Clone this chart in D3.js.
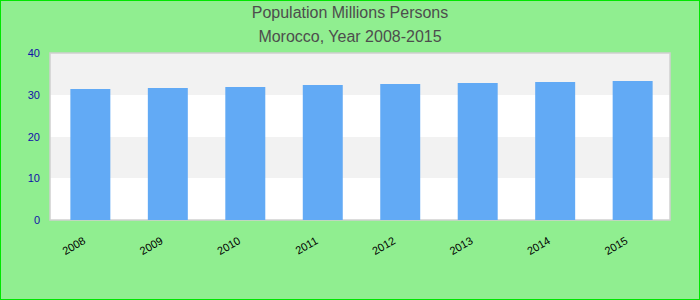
<!DOCTYPE html>
<html>
<head>
<meta charset="utf-8">
<script src="https://cdn.jsdelivr.net/npm/d3@7"></script>
<style>
  html, body { margin: 0; padding: 0; }
  body { width: 700px; height: 300px; overflow: hidden; font-family: "Liberation Sans", Arial, sans-serif; }
</style>
</head>
<body>
<svg id="chart"></svg>
<script>
// data
const years = ["2008", "2009", "2010", "2011", "2012", "2013", "2014", "2015"];
const population = [31.4, 31.6, 31.9, 32.3, 32.6, 32.8, 33.1, 33.3];
const yTicks = [0, 10, 20, 30, 40];
const titleLines = ["Population Millions Persons", "Morocco, Year 2008-2015"];

const svgWidth = 700, svgHeight = 300;
const margin = { top: 53, right: 30, bottom: 80, left: 50 };
const width = svgWidth - margin.left - margin.right;
const height = svgHeight - margin.top - margin.bottom;

const svg = d3.select("#chart")
  .attr("width", svgWidth)
  .attr("height", svgHeight);

// background + border
svg.append("rect")
  .attr("x", 0.5).attr("y", 0.5)
  .attr("width", svgWidth - 1).attr("height", svgHeight - 1)
  .attr("fill", "#90ee90")
  .attr("stroke", "#00e600")
  .attr("stroke-width", 1);

// titles
svg.selectAll(".title")
  .data(titleLines)
  .enter().append("text")
  .attr("class", "title")
  .attr("x", svgWidth / 2)
  .attr("y", (d, i) => 18 + i * 24)
  .attr("text-anchor", "middle")
  .attr("fill", "#4d4d4d")
  .style("font-size", "16px")
  .text(d => d);

const g = svg.append("g")
  .attr("transform", "translate(" + margin.left + "," + margin.top + ")");

const x = d3.scaleBand()
  .domain(years)
  .range([1, width + 2])
  .paddingInner(0.484)
  .paddingOuter(0.25);

const y = d3.scaleLinear()
  .domain([0, 40])
  .rangeRound([height, 0]);

// alternating bands
const bands = d3.pairs(yTicks);
g.selectAll(".band")
  .data(bands)
  .enter().append("rect")
  .attr("class", "band")
  .attr("x", 0)
  .attr("y", d => y(d[1]))
  .attr("width", width)
  .attr("height", d => y(d[0]) - y(d[1]))
  .attr("fill", (d, i) => i % 2 === 0 ? "#ffffff" : "#f2f2f2")
  .attr("shape-rendering", "crispEdges");

// plot frame
g.append("rect")
  .attr("x", 0).attr("y", 0)
  .attr("width", width).attr("height", height)
  .attr("fill", "none")
  .attr("stroke", "#d0d0d0")
  .attr("stroke-width", 1.5);

// bars
g.selectAll(".bar")
  .data(population)
  .enter().append("rect")
  .attr("class", "bar")
  .attr("x", (d, i) => x(years[i]))
  .attr("y", d => y(d))
  .attr("width", x.bandwidth())
  .attr("height", d => height - y(d))
  .attr("fill", "#62aaf5");

// y axis
const yAxis = g.append("g")
  .call(d3.axisLeft(y).tickValues(yTicks).tickSize(0).tickPadding(10));
yAxis.select(".domain").remove();
yAxis.selectAll("text")
  .attr("fill", "#1010a8")
  .style("font-size", "11px")
  .style("font-family", "'Liberation Sans', Arial, sans-serif");

// x axis
const xAxis = g.append("g")
  .attr("transform", "translate(0," + height + ")")
  .call(d3.axisBottom(x).tickSize(0).tickPadding(0));
xAxis.select(".domain").remove();
xAxis.selectAll("text")
  .attr("fill", "#000")
  .style("font-size", "11px")
  .style("font-family", "'Liberation Sans', Arial, sans-serif")
  .attr("text-anchor", "end")
  .attr("dy", 0)
  .attr("y", 0)
  .attr("transform", "translate(-4,23) rotate(-30)");
</script>
</body>
</html>
